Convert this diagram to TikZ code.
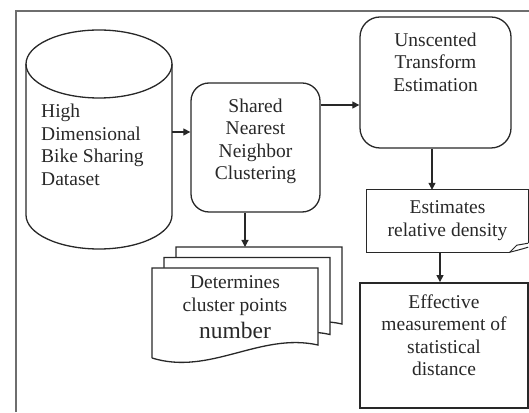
\documentclass[tikz,border=0pt]{standalone}
\usepackage{fontspec}
\setmainfont{Liberation Serif}
\usetikzlibrary{arrows.meta,positioning,calc}
\definecolor{inkgray}{RGB}{40,40,40}
\definecolor{framegray}{RGB}{110,110,110}

\begin{document}
\begin{tikzpicture}[x=1pt,y=1pt,
  lbl/.style={inner sep=0pt,align=center,text=inkgray,font={\fontsize{19.5}{22.5}\selectfont}},
  box/.style={draw=inkgray,line width=1.3pt,inner sep=0pt},
  flow/.style={draw=inkgray,line width=1.2pt,-{Triangle[length=7pt,width=7pt]}}]
  \useasboundingbox (0,0) rectangle (529,412);
  \draw[framegray,line width=1.4pt] (16,0) -- (16,401) -- (529,401);

  % dataset drum
  \draw[box] (26,348) -- (26,197) arc[start angle=180,end angle=360,x radius=73,y radius=34] -- (172,348);
  \draw[box] (99,348) ellipse[x radius=73,y radius=34];
  \coordinate (dbout) at (172,280);
  \node[lbl,align=left,anchor=north west] (dbtxt) at (41,308) {High\\Dimensional\\Bike Sharing\\Dataset};

  \node[box,rounded corners=18pt,minimum width=129pt,minimum height=129pt] (snn) at (255.5,264.5) {};
  \node[lbl,below=16pt of snn.north] (snntxt) {Shared\\Nearest\\Neighbor\\Clustering};

  \node[box,rounded corners=20pt,minimum width=151pt,minimum height=131pt] (ute) at (435.5,329.5) {};
  \node[lbl,below=16pt of ute.north] (utetxt) {Unscented\\Transform\\Estimation};

  % card with curled corner
  \node[minimum width=161pt,minimum height=62pt,inner sep=0pt] (est) at (447.5,191) {};
  \draw[box] ($(est.south east)+(0,9)$) -- (est.north east) -- (est.north west) -- (est.south west) -- ++(143,0) coordinate (curl);
  \draw[box,line width=1pt] (curl) -- ++(7,7) -- ($(est.south east)+(0,9)$);
  \draw[box,line width=1pt] (curl) .. controls ++(8,2) .. ($(est.south east)+(0,5)$);
  \node[lbl,below=11pt of est.north] (esttxt) {Estimates\\relative density};

  \node[box,line width=1.8pt,minimum width=168pt,minimum height=125pt] (eff) at (444,66.5) {};
  \node[lbl,below=12pt of eff.north] (efftxt) {Effective\\measurement of\\statistical\\distance};

  % stacked documents
  \foreach \s in {2,1,0}
    \draw[box,fill=white,shift={(12*\s,10.5*\s)}] (152,54) -- (152,144) -- (318,144) -- (318,67)
      .. controls (260,80) and (210,36) .. (152,54);
  \node[minimum width=166pt,minimum height=90pt,inner sep=0pt] (doc) at (235,99) {};
  \coordinate (dock) at (245,165);
  \node[lbl,below=8pt of doc.north] (doctxt) {Determines\\cluster points\\[4.5pt]{\fontsize{23.5}{27}\selectfont number}};

  \draw[flow] (dbout) -- (dbout -| snn.west);
  \draw[flow] ([yshift=42.5pt]snn.east) -- ([yshift=42.5pt]snn.east -| ute.west);
  \draw[flow] ([xshift=-3.5pt]ute.south) -- ([xshift=-3.5pt]ute.south |- est.north);
  \draw[flow] ([xshift=-7.5pt]est.south) -- ([xshift=-7.5pt]est.south |- eff.north);
  \draw[flow] (snn.south -| dock) -- (dock);
\end{tikzpicture}
\end{document}
